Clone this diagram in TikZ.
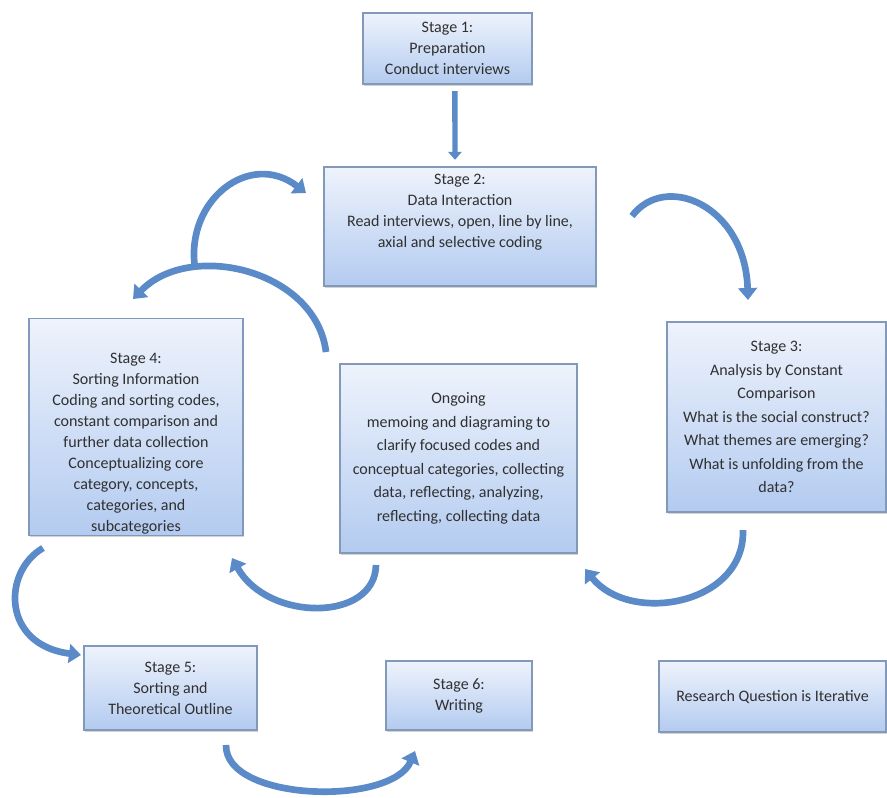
\documentclass[tikz,border=0pt]{standalone}
\usepackage{fontspec}
\setmainfont{Carlito}
\usetikzlibrary{positioning, arrows.meta, calc, shadows}
\definecolor{boxTop}{HTML}{EEF3FC}
\definecolor{boxBottom}{HTML}{B3CBF0}
\definecolor{boxLine}{HTML}{8299B9}
\definecolor{arrowBlue}{HTML}{5A8AC8}
\definecolor{textGray}{HTML}{303030}
\tikzstyle{stagebox} =[draw=boxLine, line width=0.8pt, top color=boxTop, bottom color=boxBottom, align=center, text=textGray, font=\fontsize{12}{15.7}\selectfont, inner sep=1pt, drop shadow={opacity=0.35, shadow xshift=0.9pt, shadow yshift=-1.3pt}]
\tikzstyle{widespaced} =[font=\fontsize{12}{17.6}\selectfont]
\tikzstyle{curvearrow} =[draw=arrowBlue, line width=5pt, -{Triangle[length=9pt, width=14pt]}]
\tikzstyle{downarrow} =[draw=arrowBlue, line width=4pt, -{Triangle[length=6pt, width=10pt]}]

\begin{document}
\begin{tikzpicture}[x=0.75pt, y=-0.75pt]
\useasboundingbox (0,0) rectangle (887,797);

\node (stageOne) [stagebox, minimum width=126.75pt, minimum height=53.25pt] at (447.5,48.5) {Stage 1:\\Preparation\\Conduct interviews};

\node (stageTwo) [stagebox, minimum width=204pt, minimum height=89.25pt] at (460,226.5) {Stage 2:\\Data Interaction\\Read interviews, open, line by line,\\axial and selective coding\rule[-24pt]{0pt}{24pt}};

\node (stageFour) [stagebox, minimum width=160.5pt, minimum height=162pt] at (136,427) {\rule{0pt}{33pt}Stage 4:\\Sorting Information\\Coding and sorting codes,\\constant comparison and\\further data collection\\Conceptualizing core\\category, concepts,\\categories, and\\subcategories};

\node (ongoing) [stagebox, widespaced, minimum width=177.75pt, minimum height=141.75pt] at (458.5,458.5) {Ongoing\\memoing and diagraming to\\clarify focused codes and\\conceptual categories, collecting\\data, reflecting, analyzing,\\reflecting, collecting data};

\node (stageThree) [stagebox, widespaced, minimum width=164.25pt, minimum height=142.5pt] at (776.5,417) {Stage 3:\\Analysis by Constant\\Comparison\\What is the social construct?\\What themes are emerging?\\What is unfolding from the\\data?};

\node (stageFive) [stagebox, minimum width=129.75pt, minimum height=63pt] at (170.5,688) {Stage 5:\\Sorting and\\Theoretical Outline};

\node (stageSix) [stagebox, minimum width=109.5pt, minimum height=51.75pt] at (459,695.5) {Stage 6:\\Writing};

\node (researchQ) [stagebox, minimum width=170.25pt, minimum height=53.25pt] at (772.5,696.5) {Research Question is Iterative};

% arrow ends
\coordinate (ongOut) at (326,352);
\coordinate (fourIn) at (133,299);
\coordinate (split) at (195,268);
\coordinate (twoIn) at (306,193);
\coordinate (twoOut) at (632,216);
\coordinate (threeIn) at (748,300);
\coordinate (threeOut) at (743,530);
\coordinate (ongIn) at (585,569);
\coordinate (ongDown) at (376,565);
\coordinate (fourUp) at (232,558);
\coordinate (fourOut) at (43,548);
\coordinate (fiveIn) at (81,655);
\coordinate (fiveOut) at (226,745);
\coordinate (sixIn) at (415,751);

\draw[downarrow] ([xshift=5.5pt, yshift=-5pt]stageOne.south) -- ([xshift=-3.75pt, yshift=5pt]stageTwo.north);

\draw[curvearrow] (ongOut) .. controls (316,270) and (190,240) .. (fourIn);
\draw[curvearrow] (split) .. controls (185,200) and (250,150) .. (twoIn);
\draw[curvearrow] (twoOut) .. controls (665,172) and (745,205) .. (threeIn);
\draw[curvearrow] (threeOut) .. controls (745,605) and (630,625) .. (ongIn);
\draw[curvearrow] (ongDown) .. controls (375,622) and (268,622) .. (fourUp);
\draw[curvearrow] (fourOut) .. controls (2,572) and (2,645) .. (fiveIn);
\draw[curvearrow] (fiveOut) .. controls (225,802) and (392,806) .. (sixIn);

\end{tikzpicture}
\end{document}
